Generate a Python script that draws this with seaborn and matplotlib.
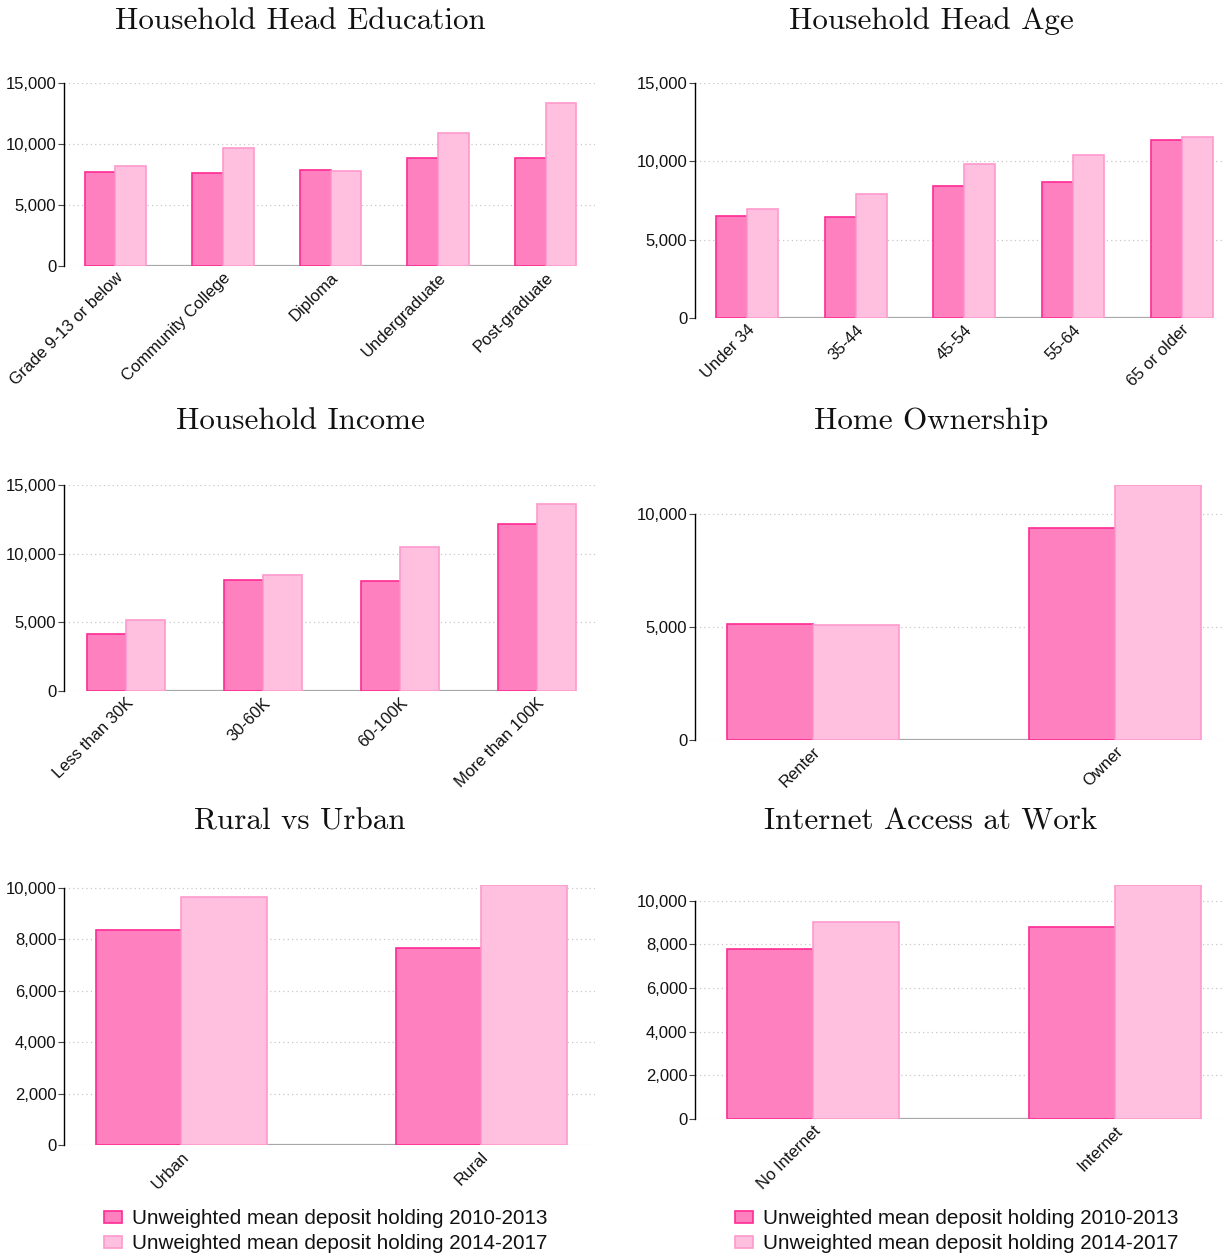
import matplotlib
matplotlib.use("Agg")
import matplotlib.pyplot as plt
import matplotlib.ticker as mticker
from matplotlib.patches import Patch
import seaborn as sns
import pandas as pd

sns.set_theme(style="white")
plt.rcParams["font.family"] = ["Liberation Sans", "DejaVu Sans"]

PERIODS = ["Unweighted mean deposit holding 2010-2013",
           "Unweighted mean deposit holding 2014-2017"]

edu_cats = ["Grade 9-13 or below", "Community College", "Diploma",
            "Undergraduate", "Post-graduate"]
edu_2010 = [7680, 7620, 7870, 8850, 8850]
edu_2014 = [8200, 9670, 7820, 10900, 13360]

age_cats = ["Under 34", "35-44", "45-54", "55-64", "65 or older"]
age_2010 = [6510, 6470, 8430, 8680, 11380]
age_2014 = [6980, 7940, 9830, 10400, 11550]

inc_cats = ["Less than 30K", "30-60K", "60-100K", "More than 100K"]
inc_2010 = [4150, 8100, 8030, 12150]
inc_2014 = [5180, 8460, 10470, 13650]

own_cats = ["Renter", "Owner"]
own_2010 = [5130, 9380]
own_2014 = [5100, 11260]

rur_cats = ["Urban", "Rural"]
rur_2010 = [8340, 7640]
rur_2014 = [9650, 10100]

net_cats = ["No Internet", "Internet"]
net_2010 = [7780, 8790]
net_2014 = [9020, 10720]

FILL = ["#ff80bf", "#ffbfdf"]
EDGE = ["#ff2a95", "#ff99cc"]

W, H = 1225, 1258
fig = plt.figure(figsize=(W / 100, H / 100), dpi=100)


def px_axes(l, t, r, b):
    return fig.add_axes([l / W, 1 - b / H, (r - l) / W, (b - t) / H])


panels = [
    dict(title="Household Head Education", cats=edu_cats, a=edu_2010, b=edu_2014,
         ticks=[0, 5000, 10000, 15000], box=(64, 83, 595, 266), xlim=(-0.476, 4.457), tx=300, ty=21),
    dict(title="Household Head Age", cats=age_cats, a=age_2010, b=age_2014,
         ticks=[0, 5000, 10000, 15000], box=(695, 83, 1224, 318), xlim=(-0.48, 4.39), tx=931, ty=21),
    dict(title="Household Income", cats=inc_cats, a=inc_2010, b=inc_2014,
         ticks=[0, 5000, 10000, 15000], box=(64, 485, 597, 691), xlim=(-0.453, 3.44), tx=300, ty=421),
    dict(title="Home Ownership", cats=own_cats, a=own_2010, b=own_2014,
         ticks=[0, 5000, 10000], box=(695, 485, 1224, 740), xlim=(-0.39, 1.36), tx=931, ty=421),
    dict(title="Rural vs Urban", cats=rur_cats, a=rur_2010, b=rur_2014,
         ticks=[0, 2000, 4000, 6000, 8000, 10000], box=(64, 885, 595, 1145), xlim=(-0.39, 1.38), tx=300, ty=822),
    dict(title="Internet Access at Work", cats=net_cats, a=net_2010, b=net_2014,
         ticks=[0, 2000, 4000, 6000, 8000, 10000], box=(695, 885, 1224, 1119), xlim=(-0.39, 1.36), tx=931, ty=822),
]

BAR_W = 0.57

for p in panels:
    ax = px_axes(*p["box"])
    df = pd.DataFrame({
        "category": p["cats"] * 2,
        "value": list(p["a"]) + list(p["b"]),
        "period": [PERIODS[0]] * len(p["cats"]) + [PERIODS[1]] * len(p["cats"]),
    })
    sns.barplot(data=df, x="category", y="value", hue="period", hue_order=PERIODS,
                order=p["cats"], palette=FILL, width=BAR_W, gap=0, saturation=1,
                errorbar=None, legend=False, ax=ax, zorder=3)
    for cont, ec in zip(ax.containers, EDGE):
        for bar in cont:
            bar.set_edgecolor(ec)
            bar.set_linewidth(1.2)

    top = max(max(p["ticks"]), max(p["a"]), max(p["b"]))
    ax.set_ylim(0, top)
    ax.set_xlim(*p["xlim"])
    ax.set_yticks(p["ticks"])
    ax.yaxis.set_major_formatter(mticker.StrMethodFormatter("{x:,.0f}"))
    for t in p["ticks"]:
        ax.axhline(t, color="#c8c8c8", lw=0.9, ls=(0, (1, 2.5)), zorder=1)
    n = len(p["cats"])
    ax.hlines(0, -BAR_W / 2, n - 1 + BAR_W / 2, color="#a8a8a8", lw=1.6, zorder=2)

    for side in ["top", "right", "bottom"]:
        ax.spines[side].set_visible(False)
    ax.spines["left"].set_color("black")
    ax.spines["left"].set_linewidth(1.0)
    ax.spines["left"].set_bounds(0, max(p["ticks"]))
    ax.tick_params(axis="y", which="major", left=True, length=4, width=0.8,
                   color="#444444", labelsize=12, pad=1.5, labelcolor="#111111")
    ax.tick_params(axis="x", bottom=False, labelsize=12, pad=-3, labelcolor="#111111")
    ax.set_xticks(range(n))
    ax.set_xticklabels(p["cats"], rotation=45, ha="right", rotation_mode="anchor")
    ax.set_xlabel("")
    ax.set_ylabel("")
    ax.set_facecolor("white")

    fig.text(p["tx"] / W, 1 - p["ty"] / H, p["title"], family="cmr10",
             fontsize=22.4, ha="center", va="center", color="#111111")

handles = [Patch(facecolor=FILL[i], edgecolor=EDGE[i], linewidth=1.2, label=PERIODS[i])
           for i in range(2)]
for x0 in (104, 735):
    fig.legend(handles=handles, loc="upper left",
               bbox_to_anchor=(x0 / W, 1 - 1209 / H), frameon=False,
               fontsize=14.9, handlelength=0.87, handleheight=0.5,
               handletextpad=0.48, labelspacing=0.3, borderaxespad=0,
               borderpad=0, labelcolor="#111111")

fig.savefig("out.png", dpi=100, facecolor="white")
